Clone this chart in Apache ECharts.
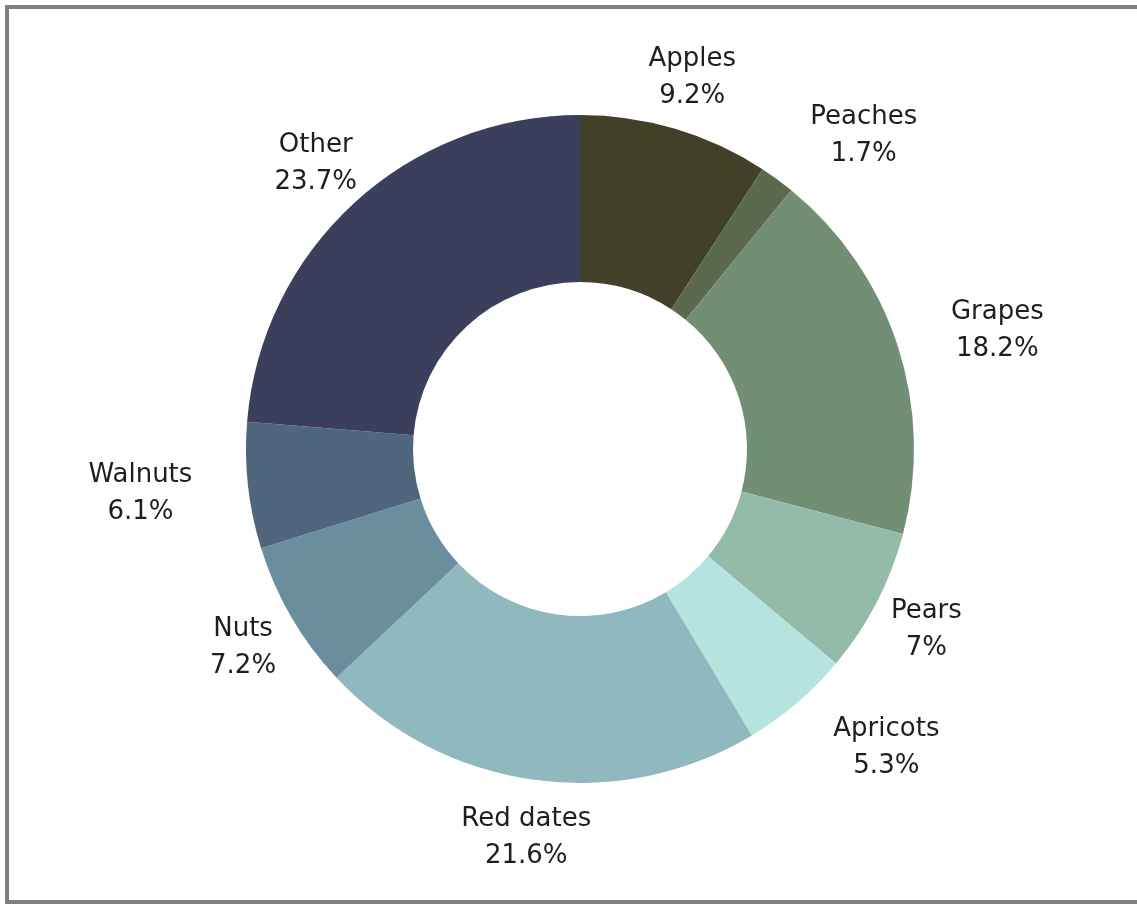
<!DOCTYPE html>
<html>
<head>
<meta charset="utf-8">
<script src="https://cdn.jsdelivr.net/npm/echarts@6/dist/echarts.min.js"></script>
<style>
  html, body { margin: 0; padding: 0; width: 1137px; height: 904px; overflow: hidden; background: #ffffff; }
  #frame { position: absolute; left: 5px; top: 5px; width: 1300px; height: 899px; box-sizing: border-box;
           border: 4px solid #808080; border-right: none; }
  #chart { position: absolute; left: 0; top: 0; width: 1137px; height: 904px; }
</style>
</head>
<body>
<div id="frame"></div>
<div id="chart"></div>
<script>
const categories = ['Apples', 'Peaches', 'Grapes', 'Pears', 'Apricots', 'Red dates', 'Nuts', 'Walnuts', 'Other'];
const values = [9.2, 1.7, 18.2, 7, 5.3, 21.6, 7.2, 6.1, 23.7];
const colors = ['#424029', '#5b694c', '#728f76', '#94baaa', '#b5e4df', '#8fb8bf', '#6a8e9e', '#4f667c', '#3b3f5b'];

// layout settings (styles, not data)
const CX = 580, CY = 449, R_IN = 167, R_OUT = 334;
const LABEL_R = 390;      // radius of label anchor circle
const LABEL_TOP = 44;     // labels stay below this line
const LABEL_DY = 2;       // small vertical nudge of label text
const CLEAR = 2.5;        // margin used to test whether a centred label would touch the ring

const total = values.reduce((a, b) => a + b, 0);
function midAngle(i) {
  let before = 0;
  for (let k = 0; k < i; k++) before += values[k];
  return (before + values[i] / 2) / total * 2 * Math.PI; // clockwise from 12 o'clock
}
function touchesRing(x0, y0, w, h) {
  const nx = Math.min(Math.max(CX, x0), x0 + w);
  const ny = Math.min(Math.max(CY, y0), y0 + h);
  return Math.hypot(nx - CX, ny - CY) < R_OUT + CLEAR;
}

const chart = echarts.init(document.getElementById('chart'), null, { renderer: 'canvas' });
chart.setOption({
  backgroundColor: 'transparent',
  animation: false,
  series: [{
    type: 'pie',
    center: [CX, CY],
    radius: [R_IN, R_OUT],
    startAngle: 90,
    clockwise: true,
    avoidLabelOverlap: false,
    percentPrecision: 1,
    itemStyle: { borderWidth: 0 },
    data: categories.map((c, i) => ({ name: c, value: values[i], itemStyle: { color: colors[i] } })),
    label: {
      show: true,
      position: 'outside',
      distanceToLabelLine: 0,
      formatter: '{n|{b}}\n{n|{d}%}',
      rich: {
        n: { align: 'center', fontFamily: 'DejaVu Sans', fontSize: 26, lineHeight: 37, color: '#1e1e1e' }
      }
    },
    labelLine: { show: false, length: 56, length2: 0 },
    labelLayout: function (p) {
      const a = midAngle(p.dataIndex);
      const vx = Math.sin(a), vy = -Math.cos(a);
      const w = p.labelRect.width, h = p.labelRect.height;
      let x = CX + LABEL_R * vx, y = CY + LABEL_R * vy;
      if (y - h / 2 < LABEL_TOP) {
        y = LABEL_TOP + h / 2;
        x = CX + (vx >= 0 ? 1 : -1) * Math.sqrt(Math.max(0, LABEL_R * LABEL_R - (y - CY) * (y - CY)));
      }
      let align = 'center';
      const x0 = x - w / 2;
      if (touchesRing(x0, y - h / 2, w, h)) {
        align = vx >= 0 ? 'left' : 'right';
      }
      return { x: x, y: y + LABEL_DY, align: align, verticalAlign: 'middle' };
    }
  }]
});
</script>
</body>
</html>
